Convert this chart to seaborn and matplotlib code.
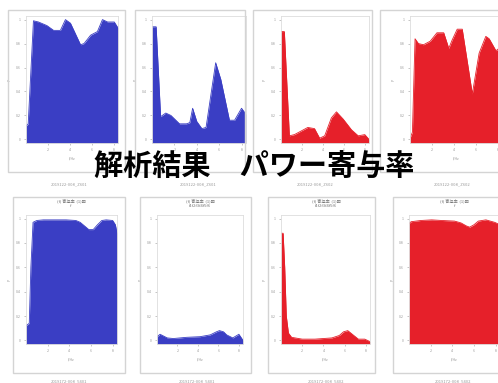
import matplotlib
matplotlib.use("Agg")
import matplotlib.pyplot as plt
from matplotlib.patches import Rectangle
import numpy as np
import seaborn as sns

# ---- data ----
blue = "#3a3ec4"
red = "#e6202a"

x1 = [0, 0.2, 0.68, 1.14, 1.91, 2.52, 3.14, 3.6, 4.06, 4.98, 5.3, 5.9, 6.52, 6.98, 7.45, 8.06, 8.4]
y1 = [0.11, 0.13, 0.99, 0.98, 0.95, 0.91, 0.91, 1.0, 0.97, 0.79, 0.80, 0.87, 0.90, 1.0, 0.98, 0.98, 0.93]

x2 = [0, 0.37, 0.77, 1.23, 1.69, 2.46, 3.08, 3.38, 3.63, 4.0, 4.46, 4.83, 5.69, 6.15, 6.92, 7.38, 8.0, 8.4]
y2 = [0.94, 0.94, 0.19, 0.22, 0.20, 0.13, 0.13, 0.14, 0.26, 0.15, 0.09, 0.10, 0.64, 0.50, 0.16, 0.16, 0.26, 0.21]

x3 = [0, 0.32, 0.8, 1.28, 1.92, 2.56, 3.2, 3.69, 4.17, 4.81, 5.29, 5.93, 6.73, 7.37, 8.0, 8.4]
y3 = [0.90, 0.90, 0.03, 0.04, 0.07, 0.10, 0.09, 0.01, 0.03, 0.18, 0.23, 0.17, 0.08, 0.03, 0.04, 0.0]

x4 = [0, 0.22, 0.46, 0.77, 1.23, 1.85, 2.46, 3.08, 3.54, 3.85, 4.31, 4.77, 5.69, 6.31, 6.92, 7.23, 7.85, 8.4]
y4 = [0.01, 0.06, 0.84, 0.80, 0.79, 0.82, 0.89, 0.89, 0.76, 0.83, 0.92, 0.92, 0.38, 0.72, 0.86, 0.84, 0.74, 0.78]

x5 = [0, 0.3, 0.45, 0.65, 1.0, 1.6, 2.5, 3.7, 4.6, 5.0, 5.4, 5.8, 6.2, 6.6, 7.0, 7.4, 8.0, 8.25, 8.4]
y5 = [0.12, 0.14, 0.6, 0.97, 0.985, 0.99, 0.99, 0.99, 0.985, 0.97, 0.94, 0.91, 0.91, 0.95, 0.985, 0.99, 0.985, 0.95, 0.88]

x6 = [0, 0.3, 1.0, 1.6, 2.9, 4.2, 5.2, 5.8, 6.1, 6.5, 6.8, 7.4, 8.0, 8.4]
y6 = [0.03, 0.05, 0.02, 0.015, 0.025, 0.03, 0.045, 0.07, 0.08, 0.07, 0.045, 0.02, 0.05, 0.0]

x7 = [0, 0.2, 0.35, 0.5, 0.7, 1.0, 2.0, 3.2, 4.8, 5.5, 5.9, 6.3, 6.8, 7.3, 7.9, 8.4]
y7 = [0.88, 0.88, 0.6, 0.2, 0.06, 0.025, 0.01, 0.01, 0.02, 0.04, 0.07, 0.08, 0.045, 0.01, 0.01, -0.01]

x8 = [0, 0.2, 1.1, 2.1, 3.0, 4.2, 4.8, 5.3, 5.6, 6.0, 6.4, 7.1, 7.9, 8.4]
y8 = [0.96, 0.975, 0.985, 0.99, 0.985, 0.98, 0.965, 0.94, 0.93, 0.95, 0.98, 0.99, 0.97, 0.95]

top_captions = ["2019122-008_Z601", "2019122-008_Z601", "2019122-008_Z602", "2019122-008_Z602"]
bottom_captions = ["2019172-008_5401", "2019172-008_5401", "2019172-008_5402", "2019172-008_5402"]
bottom_titles = ["(f) 寄与率  (1)図\nf", "(f) 寄与率  (1)図\nf1f2f3f4f5f6", "(f) 寄与率  (1)図\nf1f2f3f4f5f6", "(f) 寄与率  (1)図\nf"]
title = "解析結果\u3000パワー寄与率"

BASE = -0.03

sns.set_theme(style="white")
plt.rcParams['font.family'] = ['Noto Sans CJK JP', 'DejaVu Sans']

W, H = 498, 383
fig = plt.figure(figsize=(W / 100, H / 100), dpi=100)
fig.patch.set_facecolor("white")


def px_axes(l, t, r, b):
    return fig.add_axes([l / W, 1 - b / H, (r - l) / W, (b - t) / H])


def card(l, t, r, b):
    fig.add_artist(Rectangle((l / W, 1 - b / H), (r - l) / W, (b - t) / H,
                             transform=fig.transFigure, fill=False,
                             edgecolor="#d4d4d4", linewidth=1.0))


# cards behind the panels
for (l, r) in [(8, 125), (135, 245), (253, 372), (380, 505)]:
    card(l, 10, r, 172)
for (l, r) in [(13, 125), (140, 251), (268, 375), (393, 505)]:
    card(l, 197, r, 373)

panels = [
    (x1, y1, blue, (26, 16, 118, 143)),
    (x2, y2, blue, (152, 16, 246, 143)),
    (x3, y3, red, (281, 16, 369, 143)),
    (x4, y4, red, (410, 16, 502, 143)),
    (x5, y5, blue, (26, 215, 117, 344)),
    (x6, y6, blue, (157, 215, 243, 344)),
    (x7, y7, red, (281, 215, 370, 344)),
    (x8, y8, red, (409, 215, 500, 344)),
]

for i, (xs, ys, col, box) in enumerate(panels):
    ax = px_axes(*box)
    sns.lineplot(x=xs, y=ys, color=col, linewidth=0.6, ax=ax)
    ax.fill_between(xs, ys, BASE, color=col, linewidth=0)
    ax.set_xlim(0, 8.4)
    ax.set_ylim(BASE, 1.03)
    ax.set_xticks([2, 4, 6, 8])
    ax.set_yticks(np.arange(0, 1.01, 0.2))
    ax.set_xticklabels(["2", "4", "6", "8"])
    ax.set_yticklabels(["0", "0.2", "0.4", "0.6", "0.8", "1"])
    ax.tick_params(labelsize=2.5, colors="#999999", length=1.2, width=0.4, pad=2.5)
    ax.tick_params(axis="both", direction="out", bottom=True, left=True)
    for sp in ax.spines.values():
        sp.set_color("#dddddd")
        sp.set_linewidth(0.6)
    # x labels of the two middle top panels sit behind the big title
    if i not in (1, 2):
        ax.set_xlabel("f/Hz", fontsize=2.5, color="#999999", labelpad=3)
    ax.set_ylabel("P", fontsize=2.5, color="#999999", labelpad=3)
    ax.set_facecolor("white")

# captions under cards
for cx, txt in zip([69, 198, 315, 452], top_captions):
    fig.text(cx / W, 1 - 184 / H, txt, fontsize=3, color="#9a9a9a",
             ha="center", va="center")
for cx, txt in zip([69, 197, 326, 453], bottom_captions):
    fig.text(cx / W, 1 - 381 / H, txt, fontsize=3, color="#9a9a9a",
             ha="center", va="center")
for cx, txt in zip([71, 200, 326, 454], bottom_titles):
    fig.text(cx / W, 1 - 199 / H, txt, fontsize=3, color="#777777",
             ha="center", va="top", linespacing=1.0)

fig.text(254 / W, 1 - 167 / H, title, fontsize=21, color="black",
         ha="center", va="center", fontweight="bold")

fig.savefig("out.png", dpi=100, facecolor="white")
